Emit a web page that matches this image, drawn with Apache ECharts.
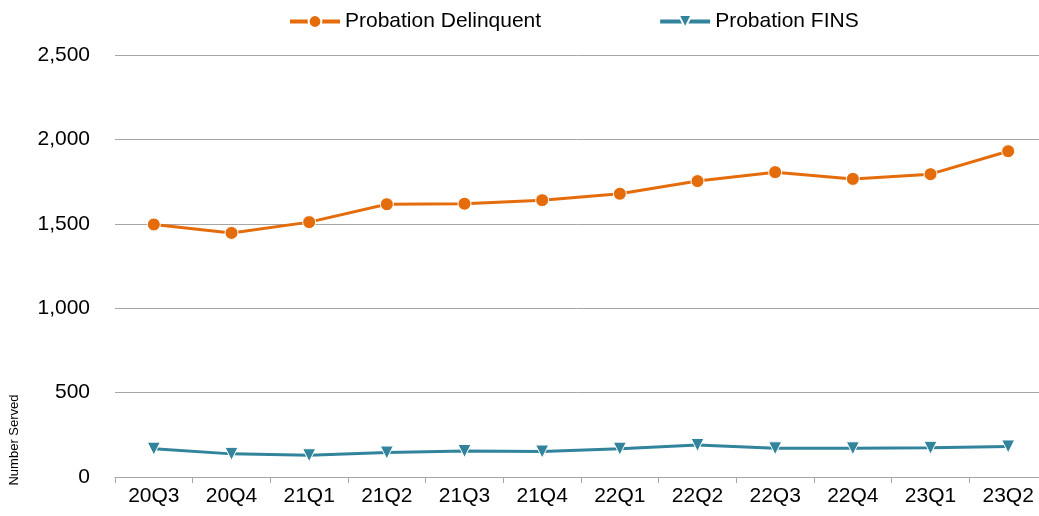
<!DOCTYPE html>
<html lang="en">
<head>
  <meta charset="UTF-8">
  <title>Probation Served by Quarter</title>
  <script src="https://cdn.jsdelivr.net/npm/echarts@6/dist/echarts.min.js"></script>
  <style>
    html, body { margin: 0; padding: 0; background: #ffffff; }
    #chart { width: 1039px; height: 516px; }
  </style>
</head>
<body>
  <div id="chart"></div>
  <script>
    // quarters on the x axis
    var quarters = ['20Q3', '20Q4', '21Q1', '21Q2', '21Q3', '21Q4', '22Q1', '22Q2', '22Q3', '22Q4', '23Q1', '23Q2'];
    // values
    var delinquent = [1496, 1446, 1510, 1616, 1619, 1640, 1678, 1753, 1806, 1766, 1794, 1930];
    var fins = [168, 137, 129, 145, 154, 151, 168, 190, 170, 170, 173, 181];

    var chart = echarts.init(document.getElementById('chart'));
    var font = '"Liberation Sans", Arial, sans-serif';

    var option = {
      animation: false,
      legend: {
        top: 6,
        left: 283,
        itemWidth: 50,
        itemHeight: 16,
        itemGap: 117,
        lineStyle: { width: 4 },
        textStyle: { fontFamily: font, fontSize: 21, color: '#000' },
        data: ['Probation Delinquent', 'Probation FINS']
      },
      grid: {
        left: 115,
        top: 55,
        width: 932,
        bottom: 39,
        outerBoundsMode: 'none'
      },
      graphic: [{
        type: 'text',
        x: 14,
        y: 440,
        rotation: Math.PI / 2,
        style: {
          text: 'Number Served',
          font: '13px ' + font,
          fill: '#000',
          align: 'center',
          verticalAlign: 'middle'
        }
      }],
      xAxis: {
        type: 'category',
        data: quarters,
        axisLine: { lineStyle: { color: '#a6a6a6', width: 1 } },
        axisTick: { show: true, length: 6, lineStyle: { color: '#a6a6a6' } },
        axisLabel: { fontFamily: font, fontSize: 21, color: '#000', margin: 9 }
      },
      yAxis: {
        type: 'value',
        min: 0,
        max: 2500,
        interval: 500,
        axisLine: { show: false },
        axisTick: { show: false },
        splitLine: { lineStyle: { color: '#a6a6a6', width: 1 } },
        axisLabel: {
          fontFamily: font,
          fontSize: 21,
          color: '#000',
          margin: 25,
          formatter: function (v) { return v.toLocaleString('en-US'); }
        }
      },
      series: [
        {
          name: 'Probation Delinquent',
          type: 'line',
          data: delinquent,
          symbol: 'circle',
          symbolSize: 13,
          lineStyle: { color: '#e46c0a', width: 3 },
          itemStyle: { color: '#e46c0a', borderColor: '#fff', borderWidth: 1 }
        },
        {
          name: 'Probation FINS',
          type: 'line',
          data: fins,
          symbol: 'triangle',
          symbolRotate: 180,
          symbolSize: 13,
          lineStyle: { color: '#31849b', width: 3 },
          itemStyle: { color: '#31849b', borderColor: '#fff', borderWidth: 1 }
        }
      ]
    };

    chart.setOption(option);
  </script>
</body>
</html>
